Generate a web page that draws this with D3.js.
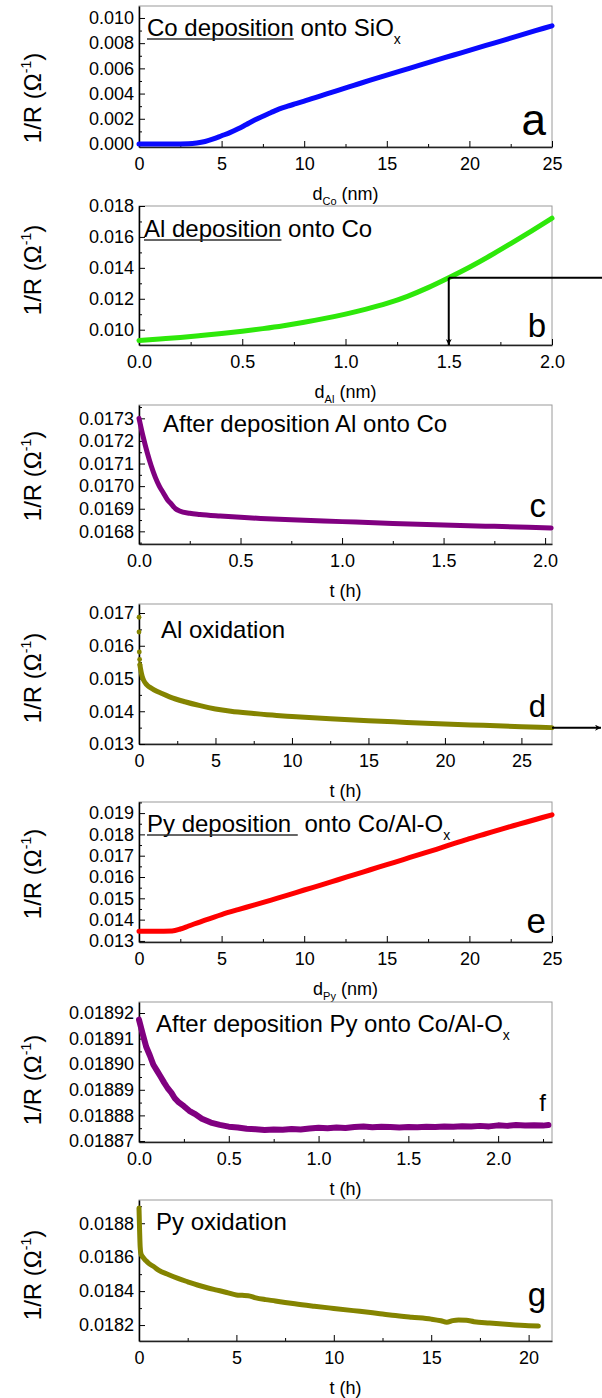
<!DOCTYPE html>
<html>
<head>
<meta charset="utf-8">
<script src="https://cdn.jsdelivr.net/npm/d3@7"></script>
<style>
  body { margin: 0; background: #fff; }
  text { font-family: "Liberation Sans", Arial, sans-serif; fill: #000; white-space: pre; }
</style>
</head>
<body>
<div id="chart"></div>
<script>

// ---- data ----

// a: Co deposition onto SiOx
const coX = [0, 1, 2, 3, 3.5, 4, 4.5, 5, 5.5, 6, 6.5, 7, 7.5, 8, 8.5, 9, 9.5, 10, 11, 12, 13, 14, 15, 16, 17, 18, 19, 20, 21, 22, 23, 24, 25];
const coY = [0, 0, 0, 0.00002, 0.00008, 0.0002, 0.0004, 0.00065, 0.0009, 0.0012, 0.00155, 0.0019, 0.0022, 0.0025, 0.00278, 0.0030, 0.0032, 0.0034,
             0.00382, 0.00424, 0.00465, 0.00506, 0.00546, 0.00586, 0.00626, 0.00665, 0.00704, 0.00743, 0.00782, 0.00821, 0.00860, 0.00899, 0.00938];

// b: Al deposition onto Co
const alX = [0, 0.1, 0.2, 0.3, 0.4, 0.5, 0.6, 0.7, 0.8, 0.9, 1.0, 1.1, 1.2, 1.3, 1.4, 1.5, 1.6, 1.7, 1.8, 1.9, 2.0];
const alY = [0.00930, 0.00940, 0.00950, 0.00962, 0.00975, 0.00990, 0.01007, 0.01026, 0.01048, 0.01073, 0.01101, 0.01133, 0.01170,
             0.01216, 0.01272, 0.01336, 0.01404, 0.01478, 0.01557, 0.01638, 0.01721];

// c: after deposition Al onto Co
const alRelaxX = [0, 0.02, 0.04, 0.06, 0.08, 0.1, 0.12, 0.14, 0.16, 0.18, 0.2, 0.25, 0.3, 0.4, 0.5, 0.6, 0.75, 1.0, 1.25, 1.5, 1.75, 2.03];
const alRelaxY = [0.01730, 0.01722, 0.01715, 0.01709, 0.01704, 0.01700, 0.01697, 0.01694, 0.01692, 0.01690, 0.01689, 0.016880, 0.016875,
                  0.016868, 0.016862, 0.016857, 0.016851, 0.016843, 0.016835, 0.016828, 0.016822, 0.016815];

// d: Al oxidation (first few readings are loose points)
const alOxDotX = [0, 0, 0.02, 0.04, 0.06];
const alOxDotY = [0.01687, 0.01642, 0.01581, 0.01558, 0.01542];
const alOxX = [0.06, 0.1, 0.2, 0.3, 0.5, 0.75, 1, 1.5, 2, 3, 4, 5, 6, 7.5, 9, 10, 12.5, 15, 17.5, 20, 22.5, 25, 27];
const alOxY = [0.01542, 0.01530, 0.01508, 0.01495, 0.01481, 0.01472, 0.01465, 0.01454, 0.01444, 0.01429, 0.01417, 0.01407, 0.01400,
               0.01393, 0.01387, 0.01384, 0.01377, 0.01371, 0.01366, 0.01361, 0.01357, 0.01353, 0.01350];

// e: Py deposition onto Co/Al-Ox
const pyX = [0, 1, 2, 2.5, 3, 4, 5, 6, 7, 8, 9, 10, 11, 12, 13, 14, 15, 16, 17, 18, 19, 20, 21, 22, 23, 24, 25];
const pyY = [0.01345, 0.01345, 0.01347, 0.01356, 0.01370, 0.01398, 0.01424, 0.01447, 0.01469, 0.01492, 0.01515, 0.01539, 0.01562,
             0.01586, 0.01610, 0.01634, 0.01658, 0.01682, 0.01706, 0.01730, 0.01755, 0.01780, 0.01803, 0.01826, 0.01848, 0.01870, 0.01892];

// f: after deposition Py onto Co/Al-Ox
const pyRelaxX = [0, 0.02, 0.04, 0.06, 0.08, 0.10, 0.12, 0.14, 0.16, 0.18, 0.20, 0.22, 0.25, 0.28, 0.31, 0.35, 0.40, 0.45, 0.50, 0.55,
                  0.60, 0.65, 0.70, 0.75, 0.80, 0.85, 0.90, 0.95, 1.00, 1.05, 1.10, 1.15, 1.20, 1.25, 1.30, 1.35, 1.40, 1.45, 1.50,
                  1.55, 1.60, 1.65, 1.70, 1.75, 1.80, 1.85, 1.90, 1.95, 2.00, 2.05, 2.10, 2.15, 2.20, 2.25, 2.28];
const pyRelaxY = [0.0189174, 0.0189120, 0.0189068, 0.0189035, 0.0188998, 0.0188975, 0.0188952, 0.0188928, 0.0188906, 0.0188889,
                  0.0188866, 0.0188852, 0.0188836, 0.0188818, 0.0188806, 0.0188787, 0.0188772, 0.0188763, 0.0188756, 0.0188753,
                  0.0188748, 0.0188746, 0.0188743, 0.0188745, 0.0188744, 0.0188747, 0.0188745, 0.0188749, 0.0188752, 0.0188750,
                  0.0188753, 0.0188751, 0.0188755, 0.0188757, 0.0188754, 0.0188756, 0.0188755, 0.0188753, 0.0188755, 0.0188754,
                  0.0188756, 0.0188755, 0.0188757, 0.0188756, 0.0188758, 0.0188757, 0.0188759, 0.0188757, 0.0188761, 0.0188759,
                  0.0188762, 0.0188760, 0.0188761, 0.0188760, 0.0188762];

// g: Py oxidation
const pyOxX = [0, 0.03, 0.06, 0.1, 0.2, 0.35, 0.5, 0.75, 1, 1.5, 2, 2.5, 3, 3.5, 4, 4.5, 5, 5.3, 5.6, 6, 6.5, 7, 7.5, 8, 9, 10, 11,
               12, 12.5, 13, 14, 15, 15.5, 15.8, 16.1, 16.4, 16.8, 17.2, 18, 19, 20, 20.5];
const pyOxY = [0.01889, 0.01876, 0.01866, 0.01862, 0.01860, 0.01858, 0.018563, 0.018545, 0.018524, 0.018498, 0.018475, 0.018455,
               0.018436, 0.01842, 0.018406, 0.018392, 0.018377, 0.018375, 0.018373, 0.018360, 0.018350, 0.018342, 0.018333,
               0.018325, 0.018311, 0.018298, 0.018285, 0.018272, 0.018265, 0.018258, 0.018246, 0.018235, 0.018225, 0.018216,
               0.018226, 0.018230, 0.018228, 0.018220, 0.018212, 0.018203, 0.018196, 0.018194];

// tick values
const xTicks25 = [0, 5, 10, 15, 20, 25];
const xTicks2 = [0, 0.5, 1.0, 1.5, 2.0];
const xTicks20 = [0, 5, 10, 15, 20];
const yTicksA = [0, 0.002, 0.004, 0.006, 0.008, 0.010];
const yTicksB = [0.010, 0.012, 0.014, 0.016, 0.018];
const yTicksC = [0.0168, 0.0169, 0.0170, 0.0171, 0.0172, 0.0173];
const yTicksD = [0.013, 0.014, 0.015, 0.016, 0.017];
const yTicksE = [0.013, 0.014, 0.015, 0.016, 0.017, 0.018, 0.019];
const yTicksF = [0.01887, 0.01888, 0.01889, 0.01890, 0.01891, 0.01892];
const yTicksG = [0.0182, 0.0184, 0.0186, 0.0188];

// arrows mark where the Al layer stops (1.5 nm) and where oxidation ends
const alStopX = 1.5;


const W = 602, H = 1398;
const plotLeft = 139, plotRight = 552;
const FONT = '"Liberation Sans", Arial, sans-serif';

const svg = d3.select("#chart").append("svg")
    .attr("width", W)
    .attr("height", H);

svg.append("defs").append("marker")
    .attr("id", "head")
    .attr("viewBox", "0 0 10 10")
    .attr("refX", 10).attr("refY", 5)
    .attr("markerWidth", 10).attr("markerHeight", 6)
    .attr("markerUnits", "userSpaceOnUse")
    .attr("orient", "auto")
    .append("path")
    .attr("d", "M0,0 L10,5 L0,10 L3,5 z")
    .attr("fill", "#000");

const panels = [
    {id: "a", top: 6, bottom: 147, xDomain: [0, 25], yDomain: [-0.00024, 0.01095],
     series: [[coX, coY]], color: "#0a0aff",
     xTicks: xTicks25, yTicks: yTicksA, xFmt: "d", yFmt: ".3f",
     title: [{t: "Co deposition", u: true}, {t: " onto SiO"}, {t: "x", sub: true}], titleX: 147, titleY: 36,
     letter: "a", letterSize: 44, letterY: 135, xTitle: ["d", "Co", " (nm)"], yLabelY: 98},
    {id: "b", top: 206, bottom: 345, xDomain: [0, 2], yDomain: [0.00901, 0.018],
     series: [[alX, alY]], color: "#2ee80a",
     xTicks: xTicks2, yTicks: yTicksB, xFmt: ".1f", yFmt: ".3f",
     title: [{t: "Al deposition", u: true}, {t: " onto Co"}], titleX: 144, titleY: 237,
     letter: "b", letterSize: 33, letterY: 337, xTitle: ["d", "Al", " (nm)"], yLabelY: 270},
    {id: "c", top: 405, bottom: 544, xDomain: [0, 2.034], yDomain: [0.016744, 0.017359],
     series: [[alRelaxX, alRelaxY]], color: "#800080",
     xTicks: xTicks2, yTicks: yTicksC, xFmt: ".1f", yFmt: ".4f",
     title: [{t: "After deposition Al onto Co"}], titleX: 163, titleY: 432,
     letter: "c", letterSize: 33, letterY: 517, xTitle: ["t (h)"], yLabelY: 476},
    {id: "d", top: 604, bottom: 744, xDomain: [0, 27], yDomain: [0.013, 0.017275],
     series: [[alOxX, alOxY]], dots: [alOxDotX, alOxDotY], color: "#848400",
     xTicks: xTicks25, yTicks: yTicksD, xFmt: "d", yFmt: ".3f",
     title: [{t: "Al oxidation"}], titleX: 161, titleY: 638,
     letter: "d", letterSize: 31, letterY: 717, xTitle: ["t (h)"], yLabelY: 678},
    {id: "e", top: 802, bottom: 942, xDomain: [0, 25], yDomain: [0.01295, 0.01952],
     series: [[pyX, pyY]], color: "#ff0000",
     xTicks: xTicks25, yTicks: yTicksE, xFmt: "d", yFmt: ".3f",
     title: [{t: "Py deposition ", u: true}, {t: " onto Co/Al-O"}, {t: "x", sub: true}], titleX: 147, titleY: 832,
     letter: "e", letterSize: 35, letterY: 933, xTitle: ["d", "Py", " (nm)"], yLabelY: 874},
    {id: "f", top: 1002, bottom: 1142, xDomain: [0, 2.3], yDomain: [0.0188696, 0.0189243],
     series: [[pyRelaxX, pyRelaxY]], color: "#800080", linear: true, width: 6,
     xTicks: xTicks2, yTicks: yTicksF, xFmt: ".1f", yFmt: ".5f",
     title: [{t: "After deposition Py onto Co/Al-O"}, {t: "x", sub: true}], titleX: 156, titleY: 1032,
     letter: "f", letterSize: 24, letterY: 1111, xTitle: ["t (h)"], yLabelY: 1080},
    {id: "g", top: 1200, bottom: 1341, xDomain: [0, 21.2], yDomain: [0.018106, 0.018937],
     series: [[pyOxX, pyOxY]], color: "#848400",
     xTicks: xTicks20, yTicks: yTicksG, xFmt: "d", yFmt: ".4f",
     title: [{t: "Py oxidation"}], titleX: 156, titleY: 1230,
     letter: "g", letterSize: 33, letterY: 1306, xTitle: ["t (h)"], yLabelY: 1275}
];

// half-step minor ticks that fall inside the domain
function minorTicks(major, domain) {
    const step = (major[1] - major[0]) / 2;
    const lo = Math.min(domain[0], domain[1]), hi = Math.max(domain[0], domain[1]);
    const out = [];
    for (let v = major[0] - step; v <= hi + 1e-12; v += step * 2) {
        if (v >= lo - 1e-12) out.push(v);
    }
    return out;
}

function drawPanel(p) {
    const g = svg.append("g").attr("class", "panel-" + p.id);

    const x = d3.scaleLinear().domain(p.xDomain).range([plotLeft, plotRight]);
    const y = d3.scaleLinear().domain(p.yDomain).range([p.bottom, p.top]);

    // frame (top and right in grey)
    g.append("rect")
        .attr("x", plotLeft).attr("y", p.top)
        .attr("width", plotRight - plotLeft).attr("height", p.bottom - p.top)
        .attr("fill", "none").attr("stroke", "#9a9a9a").attr("stroke-width", 1);

    // minor ticks
    g.append("g")
        .attr("transform", "translate(0," + p.bottom + ")")
        .call(d3.axisBottom(x).tickValues(minorTicks(p.xTicks, p.xDomain)).tickSize(-3).tickFormat(""))
        .call(s => s.select(".domain").remove());
    g.append("g")
        .attr("transform", "translate(" + plotLeft + ",0)")
        .call(d3.axisLeft(y).tickValues(minorTicks(p.yTicks, p.yDomain)).tickSize(-3).tickFormat(""))
        .call(s => s.select(".domain").remove());

    // major axes
    const xAxis = g.append("g")
        .attr("transform", "translate(0," + p.bottom + ")")
        .call(d3.axisBottom(x).tickValues(p.xTicks).tickSizeInner(-6).tickSizeOuter(0)
            .tickPadding(10).tickFormat(d3.format(p.xFmt)));
    xAxis.select(".domain").attr("stroke", "#222").attr("stroke-width", 1.5);

    const yAxis = g.append("g")
        .attr("transform", "translate(" + plotLeft + ",0)")
        .call(d3.axisLeft(y).tickValues(p.yTicks).tickSizeInner(-6).tickSizeOuter(0)
            .tickPadding(5).tickFormat(d3.format(p.yFmt)));
    yAxis.select(".domain").attr("stroke", "#000").attr("stroke-width", 1.5);

    g.selectAll(".tick text")
        .attr("font-family", FONT)
        .attr("font-size", 18)
        .attr("fill", "#000");

    // curves
    const line = d3.line()
        .x(d => x(d[0]))
        .y(d => y(d[1]))
        .curve(p.linear ? d3.curveLinear : d3.curveMonotoneX);

    p.series.forEach(s => {
        g.append("path")
            .datum(d3.zip(s[0], s[1]))
            .attr("d", line)
            .attr("fill", "none")
            .attr("stroke", p.color)
            .attr("stroke-width", p.width || 5)
            .attr("stroke-linecap", "round")
            .attr("stroke-linejoin", "round");
    });

    if (p.dots) {
        g.selectAll(".dot")
            .data(d3.zip(p.dots[0], p.dots[1]))
            .enter().append("circle")
            .attr("class", "dot")
            .attr("cx", d => x(d[0]))
            .attr("cy", d => y(d[1]))
            .attr("r", 2.4)
            .attr("fill", p.color);
    }

    // panel title, first part may be underlined
    const title = g.append("text")
        .attr("x", p.titleX).attr("y", p.titleY)
        .attr("font-size", 24);
    let underlineLen = 0;
    p.title.forEach(part => {
        const ts = title.append("tspan").text(part.t);
        if (part.sub) ts.attr("font-size", 14).attr("dy", 8);
        if (part.u) underlineLen = ts.node().getComputedTextLength();
    });
    if (underlineLen > 0) {
        g.append("line")
            .attr("x1", p.titleX).attr("x2", p.titleX + underlineLen)
            .attr("y1", p.titleY + 3).attr("y2", p.titleY + 3)
            .attr("stroke", "#333").attr("stroke-width", 1.5);
    }

    // panel letter
    g.append("text")
        .attr("x", 546).attr("y", p.letterY)
        .attr("text-anchor", "end")
        .attr("font-size", p.letterSize)
        .text(p.letter);

    // x axis title
    const xt = g.append("text")
        .attr("x", (plotLeft + plotRight) / 2)
        .attr("y", p.bottom + 53)
        .attr("text-anchor", "middle")
        .attr("font-size", 18);
    xt.append("tspan").text(p.xTitle[0]);
    if (p.xTitle.length > 1) {
        xt.append("tspan").attr("font-size", 11).attr("dy", 5).text(p.xTitle[1]);
        xt.append("tspan").attr("dy", -5).text(p.xTitle[2]);
    }

    // y axis title
    const yt = g.append("text")
        .attr("transform", "translate(41," + p.yLabelY + ") rotate(-90)")
        .attr("text-anchor", "middle")
        .attr("font-size", 24);
    yt.append("tspan").text("1/R (\u03A9");
    yt.append("tspan").attr("font-size", 14).attr("dy", -10).text("-1");
    yt.append("tspan").attr("dy", 10).text(")");

    return {x: x, y: y};
}

const scales = panels.map(drawPanel);

// arrow b: from the curve at 1.5 nm, right out of the frame and down to the axis
const sb = scales[1];
const stopY = alY[alX.indexOf(alStopX)];
svg.append("line")
    .attr("x1", sb.x(alStopX)).attr("y1", sb.y(stopY))
    .attr("x2", W).attr("y2", sb.y(stopY))
    .attr("stroke", "#000").attr("stroke-width", 2);
svg.append("line")
    .attr("x1", sb.x(alStopX)).attr("y1", sb.y(stopY))
    .attr("x2", sb.x(alStopX)).attr("y2", panels[1].bottom)
    .attr("stroke", "#000").attr("stroke-width", 2)
    .attr("marker-end", "url(#head)");

// arrow d: out of the right edge at the end of oxidation
const sd = scales[3];
const endY = alOxY[alOxY.length - 1];
svg.append("line")
    .attr("x1", plotRight).attr("y1", sd.y(endY))
    .attr("x2", W - 1).attr("y2", sd.y(endY))
    .attr("stroke", "#000").attr("stroke-width", 2)
    .attr("marker-end", "url(#head)");

</script>
</body>
</html>
